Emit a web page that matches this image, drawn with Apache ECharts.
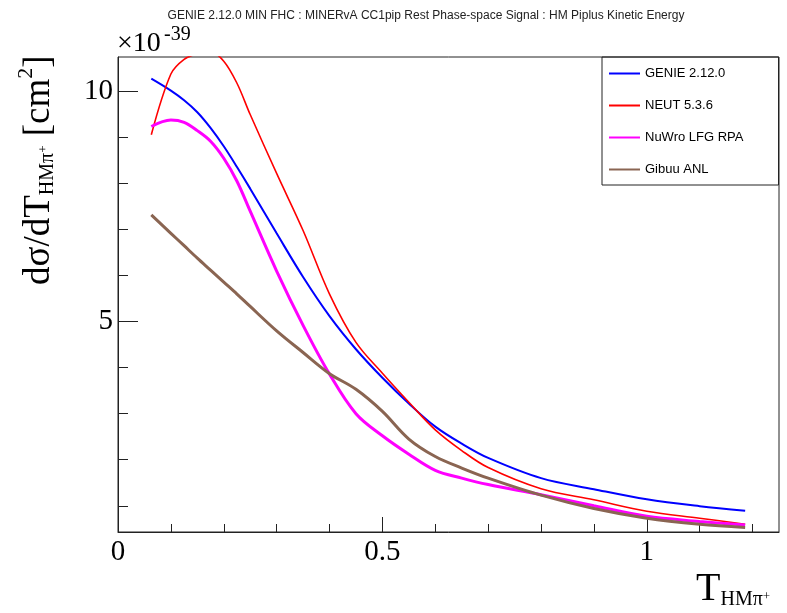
<!DOCTYPE html>
<html>
<head>
<meta charset="utf-8">
<script src="https://cdn.jsdelivr.net/npm/echarts@6/dist/echarts.min.js"></script>
<style>
  html, body { margin: 0; padding: 0; background: #fff; }
  #chart { width: 787px; height: 613px; }
</style>
</head>
<body>
<div id="chart"></div>
<script>
// ---- data ----
const xValues = [0.063, 0.1, 0.125, 0.15, 0.175, 0.2, 0.225, 0.25, 0.3, 0.35, 0.4, 0.45, 0.5, 0.55, 0.6, 0.65, 0.7, 0.8, 0.9, 1.0, 1.1, 1.186];
const genie = [10.28, 10.02, 9.81, 9.55, 9.21, 8.81, 8.36, 7.89, 6.92, 5.97, 5.12, 4.4, 3.78, 3.22, 2.72, 2.35, 2.04, 1.6, 1.36, 1.14, 0.99, 0.89];
const neut  = [9.06, 10.38, 10.7, 10.82, 10.86, 10.66, 10.18, 9.5, 8.22, 6.98, 5.6, 4.55, 3.88, 3.25, 2.65, 2.2, 1.83, 1.37, 1.13, 0.88, 0.73, 0.6];
const nuwro = [9.24, 9.38, 9.33, 9.15, 8.92, 8.55, 8.05, 7.4, 6.1, 4.92, 3.86, 3.0, 2.52, 2.12, 1.77, 1.6, 1.46, 1.24, 1.0, 0.77, 0.66, 0.58];
const gibuu = [7.32, 6.92, 6.65, 6.38, 6.12, 5.86, 5.6, 5.33, 4.8, 4.33, 3.87, 3.53, 3.05, 2.45, 2.07, 1.82, 1.6, 1.23, 0.94, 0.73, 0.6, 0.53];
const seriesNames = ['GENIE 2.12.0', 'NEUT 5.3.6', 'NuWro LFG RPA', 'Gibuu ANL'];
const xMajorTicks = [0, 0.5, 1];
const xMinorTicks = [0.1, 0.2, 0.3, 0.4, 0.6, 0.7, 0.8, 0.9, 1.1, 1.2];
const yMajorTicks = [5, 10];
const yMinorTicks = [1, 2, 3, 4, 6, 7, 8, 9];
const chartTitle = 'GENIE 2.12.0 MIN FHC : MINERvA CC1pip Rest Phase-space Signal : HM Piplus Kinetic Energy';

const SERIF = "'Liberation Serif', 'DejaVu Serif', serif";
const SANS = "'Liberation Sans', Arial, sans-serif";

const mctx = document.createElement('canvas').getContext('2d');
function tw(t, size, fam) { mctx.font = size + 'px ' + fam; return mctx.measureText(t).width; }
function bl(size) { return 0.34 * size; }

function pairs(ys) { return xValues.map((x, i) => [x, ys[i]]); }

const chart = echarts.init(document.getElementById('chart'), null, { renderer: 'canvas' });

// y-title pieces (rotated group)
let px = 0;
const yChildren = [];
function addY(text, size, baseline) {
  yChildren.push({ type: 'text', x: px, y: baseline - bl(size),
    style: { text: text, fontSize: size, fontFamily: SERIF, fill: '#000', align: 'left', verticalAlign: 'middle' } });
  px += tw(text, size, SERIF);
}
addY('dσ/dT', 37, 0);
addY('HMπ', 20, 3);
addY('+', 13, -4);
addY(' [cm', 37, 0);
addY('2', 22, -18);
addY(']', 37, 0);

const colors = ['#0000ff', '#ff0000', '#ff00ff', '#8a6552'];
const widths = [2, 1.6, 3, 3];
const datasets = [genie, neut, nuwro, gibuu];

const option = {
  animation: false,
  backgroundColor: '#fff',
  grid: { left: 118, right: 8, top: 57, bottom: 81, show: true, borderColor: '#222', borderWidth: 1, backgroundColor: 'transparent' },
  xAxis: [
    { type: 'value', min: 0, max: 1.25, position: 'bottom',
      axisLine: { show: true, lineStyle: { color: '#222', width: 1 } },
      axisTick: { show: true, inside: true, length: 15, customValues: xMajorTicks, lineStyle: { color: '#222' } },
      axisLabel: { show: true, customValues: xMajorTicks, fontSize: 29, fontFamily: SERIF, color: '#000', margin: 6 },
      splitLine: { show: false } },
    { type: 'value', min: 0, max: 1.25, position: 'bottom',
      axisLine: { show: false },
      axisTick: { show: true, inside: true, length: 8, customValues: xMinorTicks, lineStyle: { color: '#222' } },
      axisLabel: { show: false }, splitLine: { show: false } }
  ],
  yAxis: [
    { type: 'value', min: 0.43, max: 10.75, position: 'left',
      axisLine: { show: true, lineStyle: { color: '#222', width: 1 } },
      axisTick: { show: true, inside: true, length: 20, customValues: yMajorTicks, lineStyle: { color: '#222' } },
      axisLabel: { show: true, customValues: yMajorTicks, fontSize: 29, fontFamily: SERIF, color: '#000', margin: 5 },
      splitLine: { show: false } },
    { type: 'value', min: 0.43, max: 10.75, position: 'left', offset: 0,
      axisLine: { show: false },
      axisTick: { show: true, inside: true, length: 10, customValues: yMinorTicks, lineStyle: { color: '#222' } },
      axisLabel: { show: false }, splitLine: { show: false } }
  ],
  legend: {
    data: seriesNames, orient: 'vertical', left: 603, top: 62,
    itemWidth: 31, itemHeight: 14, itemGap: 19,
    itemStyle: { opacity: 0 },
    textStyle: { fontSize: 13, fontFamily: SANS, color: '#000' }
  },
  series: datasets.map((d, i) => ({
    name: seriesNames[i], type: 'line', data: pairs(d), xAxisIndex: 0, yAxisIndex: 0,
    symbol: 'none', smooth: 0.35, clip: true,
    lineStyle: { color: colors[i], width: widths[i] }, itemStyle: { color: colors[i] }, z: 3
  })),
  graphic: [
    { type: 'rect', shape: { x: 602, y: 57, width: 176.5, height: 128 },
      style: { fill: 'none', stroke: '#222', lineWidth: 1 }, z: 10 },
    { type: 'text', x: 426, y: 20 - bl(12),
      style: { text: chartTitle, fontSize: 12, fontFamily: SANS, fill: '#222', align: 'center', verticalAlign: 'middle' } },
    { type: 'text', x: 117, y: 53 - bl(28),
      style: { text: '×10', fontSize: 28, fontFamily: SERIF, fill: '#000', align: 'left', verticalAlign: 'middle' } },
    { type: 'text', x: 164, y: 42 - bl(20),
      style: { text: '-39', fontSize: 20, fontFamily: SERIF, fill: '#000', align: 'left', verticalAlign: 'middle' } },
    { type: 'text', x: 696, y: 603 - bl(40),
      style: { text: 'T', fontSize: 40, fontFamily: SERIF, fill: '#000', align: 'left', verticalAlign: 'middle' } },
    { type: 'text', x: 696 + tw('T', 40, SERIF), y: 607 - bl(20),
      style: { text: 'HMπ', fontSize: 20, fontFamily: SERIF, fill: '#000', align: 'left', verticalAlign: 'middle' } },
    { type: 'text', x: 696 + tw('T', 40, SERIF) + tw('HMπ', 20, SERIF), y: 597,
      style: { text: '+', fontSize: 13, fontFamily: SERIF, fill: '#000', align: 'left', verticalAlign: 'middle' } },
    { type: 'group', x: 52, y: 285, rotation: Math.PI / 2, children: yChildren }
  ]
};
chart.setOption(option);
</script>
</body>
</html>
